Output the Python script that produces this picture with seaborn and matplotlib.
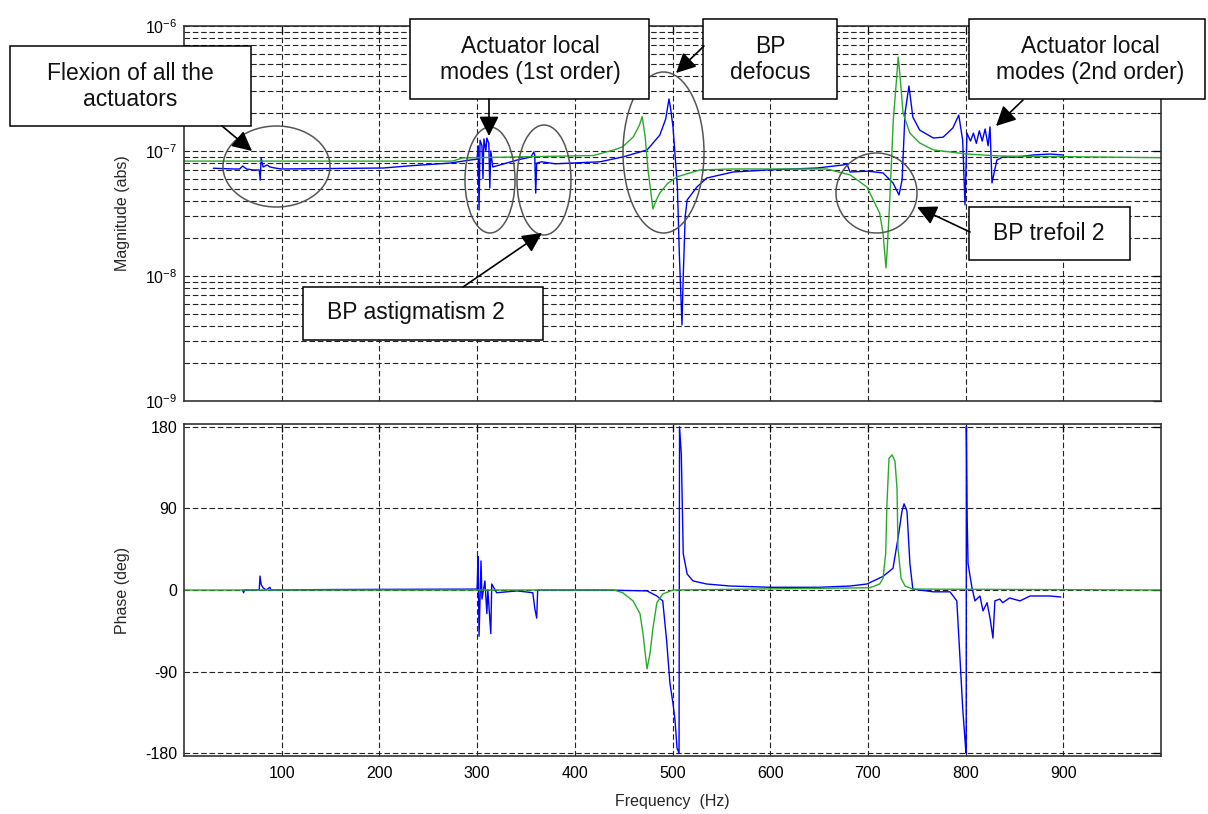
import numpy as np
import matplotlib
matplotlib.use("Agg")
import matplotlib.pyplot as plt
import seaborn as sns
from matplotlib.patches import Ellipse, Rectangle, FancyArrowPatch
from matplotlib.ticker import LogLocator, NullFormatter, FixedLocator

# ---------------- data ----------------
# Magnitude, green trace
g_mag_f = [0, 275, 285, 419, 440, 449, 460, 466, 469, 472, 475, 480, 483, 487, 495, 505, 528, 560,
           658, 682, 699, 712, 715.5, 718.5, 719.5, 722, 726, 729, 731, 733, 736, 743, 753, 767,
           801, 835, 1000]
g_mag_v = [8.3e-8, 8.3e-8, 8.8e-8, 9.2e-8, 1.02e-7, 1.08e-7, 1.3e-7, 1.6e-7, 1.88e-7, 1.3e-7, 7.0e-8,
           3.44e-8, 4.0e-8, 4.61e-8, 5.5e-8, 6.23e-8, 7.05e-8, 7.18e-8,
           7.18e-8, 6.43e-8, 5.15e-8, 3.19e-8, 2.2e-8, 1.16e-8, 1.5e-8, 3.5e-8, 1.77e-7, 3.5e-7,
           5.65e-7, 3.9e-7, 2.01e-7, 1.39e-7, 1.16e-7, 1.02e-7, 9.46e-8, 9.12e-8, 8.84e-8]

# Magnitude, blue trace
b_mag_f = [30, 50, 57, 60, 64, 71, 77, 78, 79, 81, 85, 88, 93, 100, 204, 230, 272, 293,
           300, 301, 302, 303, 305, 306, 307, 309, 310, 312, 313, 314, 316, 330, 341, 355, 358,
           359, 360, 361, 366, 380, 426, 450, 474, 487, 493, 496.4, 498, 500.5, 505, 507, 509.7,
           511, 513, 515, 525, 535, 562, 597, 648, 674.5, 678.6, 681.7, 700, 715.5, 725.7,
           731.8, 735, 738, 742, 746, 753, 767, 777, 787, 793, 797, 799.4, 801.4, 805, 808,
           811, 814, 817, 820, 823, 825, 827, 832, 838, 852.6, 869, 886, 900]
b_mag_v = [7.28e-8, 7.18e-8, 7.18e-8, 7.59e-8, 7.18e-8, 7.05e-8, 7.05e-8, 5.86e-8, 8.79e-8,
           7.45e-8, 7.73e-8, 7.45e-8, 7.31e-8, 7.18e-8, 7.31e-8, 7.6e-8, 8.0e-8, 8.47e-8,
           8.6e-8, 1.1e-7, 3.37e-8, 1.22e-7, 1.1e-7, 6.0e-8, 1.25e-7, 1.0e-7, 1.27e-7, 1.15e-7,
           5.06e-8, 1.0e-7, 7.45e-8, 8.0e-8, 8.47e-8, 8.95e-8, 9.8e-8,
           9.3e-8, 4.61e-8, 8.0e-8, 8.2e-8, 7.9e-8, 8.2e-8, 9.0e-8, 1.02e-7, 1.34e-7, 1.8e-7,
           2.61e-7, 2.2e-7, 1.56e-7, 5.15e-8, 1.5e-8, 4.06e-9,
           1.0e-8, 3.0e-8, 4.06e-8, 5.15e-8, 6.08e-8, 6.79e-8, 7.05e-8, 7.31e-8, 7.73e-8,
           7.87e-8, 6.79e-8, 6.9e-8, 6.67e-8, 5.55e-8,
           4.45e-8, 5.86e-8, 2.01e-7, 3.31e-7, 1.87e-7, 1.47e-7, 1.27e-7, 1.29e-7, 1.53e-7,
           1.94e-7, 1.22e-7, 3.7e-8, 1.39e-7, 1.2e-7, 1.39e-7,
           1.15e-7, 1.45e-7, 1.2e-7, 1.5e-7, 1.1e-7, 1.56e-7, 5.55e-8, 8.47e-8, 8.95e-8,
           8.95e-8, 9.29e-8, 9.46e-8, 9.29e-8]

# Phase, green trace
g_ph_f = [0, 440, 449, 459.6, 466.7, 469.8, 473.9, 477, 480, 484, 490, 500.5,
          702, 712, 715.5, 718.2, 719.5, 721.6, 724.7, 727.7, 729.8, 730.8, 733.9, 738, 746, 1000]
g_ph_v = [0, 0, -3, -12, -26, -48, -87, -70, -42, -14, -4.4, 0,
          2.5, 6.6, 13, 40, 95, 145, 149, 142, 112, 46, 13, 4.4, 1, 0]

# Phase, blue trace
b_ph_f = [60, 61, 62, 77, 77.8, 79, 80.9, 84, 88, 89, 150, 300, 301, 302, 304, 305, 308, 310,
          311, 314, 315, 320, 341, 357, 359, 361, 362, 429, 474, 484, 490, 494, 497.4, 500.5,
          502.6, 504.6, 506.7, 507.2, 509, 511, 515, 521, 535, 559, 600, 650, 681.7, 699,
          715.5, 725.7, 730.8, 734.9, 737, 740, 743, 746, 767, 784, 791, 794, 797, 800.2,
          800.6, 800.8, 801.6, 802.5, 806.6, 809.6, 814.7, 817.8, 822, 825, 828, 830, 835,
          838, 845, 855.7, 866, 886, 897.6]
b_ph_v = [0, -3, 0, 0, 15.4, 6, 2.5, 0, 3, 0, 0.5, 1, 37, -51, 32, -10, 10, -26,
          0, -48, 6.6, -3, -1, -3, -20, -31, 0, 0, -1, -6.6, -12, -56, -103, -125,
          -144, -174, -180, 180, 150, 40, 17.6, 10, 6.6, 4.4, 3, 3, 4.4, 6.6,
          15, 24, 57, 87, 95, 87, 29, 1, -2, -2, -12, -70, -130, -177,
          -180, 180, 79, 29, 2, -12, -6.6, -23, -14, -31, -53, -12, -10,
          -14, -8.8, -12, -6.6, -6.6, -7.7]

x_ticks = [100, 200, 300, 400, 500, 600, 700, 800, 900]
phase_ticks = [-180, -90, 0, 90, 180]

BLUE = "#0000ff"
GREEN = "#28aa28"

# ---------------- styling ----------------
sns.set_style("white")
plt.rcParams['font.family'] = ['Liberation Sans', 'DejaVu Sans']
plt.rcParams['mathtext.fontset'] = 'custom'
plt.rcParams['mathtext.rm'] = 'Liberation Sans'
plt.rcParams['mathtext.it'] = 'Liberation Sans:italic'
plt.rcParams['mathtext.bf'] = 'Liberation Sans:bold'
plt.rcParams['axes.unicode_minus'] = False

W, H = 1208, 814
fig = plt.figure(figsize=(W / 100, H / 100), dpi=100)


def rect(l, t, r, b):
    return [l / W, 1 - b / H, (r - l) / W, (b - t) / H]


def P(x, y):
    return (x / W, 1 - y / H)


ax1 = fig.add_axes(rect(184, 26, 1161, 401))
ax2 = fig.add_axes(rect(184, 424, 1161, 756))

sns.lineplot(x=b_mag_f, y=b_mag_v, ax=ax1, color=BLUE, lw=1.0, estimator=None, sort=False)
sns.lineplot(x=g_mag_f, y=g_mag_v, ax=ax1, color=GREEN, lw=1.0, estimator=None, sort=False)
sns.lineplot(x=b_ph_f, y=b_ph_v, ax=ax2, color=BLUE, lw=1.0, estimator=None, sort=False)
sns.lineplot(x=g_ph_f, y=g_ph_v, ax=ax2, color=GREEN, lw=1.0, estimator=None, sort=False)

grid_kw = dict(color="#222222", linestyle=(0, (5, 2.5)), linewidth=0.8)

ax1.set_yscale('log')
ax1.set_ylim(1e-9, 1e-6)
ax1.yaxis.set_major_locator(LogLocator(base=10, numticks=10))
ax1.yaxis.set_minor_locator(LogLocator(base=10, subs=np.arange(2, 10), numticks=20))
ax1.yaxis.set_minor_formatter(NullFormatter())

for ax in (ax1, ax2):
    ax.set_xlim(0, 1000)
    ax.xaxis.set_major_locator(FixedLocator(x_ticks))
    ax.grid(True, which='major', **grid_kw)
    ax.tick_params(which='both', direction='in', top=True, right=True, labelsize=11.5,
                   colors='black', pad=5)
    ax.tick_params(which='major', length=6, width=0.9)
    ax.tick_params(which='minor', length=3, width=0.8)
    for s in ax.spines.values():
        s.set_color('#333333')
        s.set_linewidth(1.2)
    ax.set_xlabel('')
    ax.set_ylabel('')

ax1.grid(True, which='minor', axis='y', **grid_kw)
ax1.tick_params(labelbottom=False)

ax2.set_ylim(-183, 183)
ax2.yaxis.set_major_locator(FixedLocator(phase_ticks))
ax2.tick_params(axis='x', pad=7)

ax1.set_ylabel('Magnitude (abs)', fontsize=11.5)
ax1.yaxis.set_label_coords(-0.055, 0.5)
ax2.set_ylabel('Phase (deg)', fontsize=11.5)
ax2.yaxis.set_label_coords(-0.055, 0.5)
ax2.set_xlabel('Frequency  (Hz)', fontsize=11.5)
ax2.xaxis.set_label_coords(0.5, -0.115)

# ---------------- annotations ----------------
ell_kw = dict(fill=False, edgecolor='#555555', linewidth=1.1, transform=fig.transFigure, zorder=5)
for cx, cy, w, h in [(276.5, 166.5, 107, 81), (490, 180, 50, 106), (544, 180, 54, 110),
                     (663.5, 152.5, 81, 161), (876.5, 193, 81, 80)]:
    fig.add_artist(Ellipse(P(cx, cy), w / W, h / H, **ell_kw))

boxes = [
    ((10, 46, 251, 126), "Flexion of all the\nactuators", (130, 86.5)),
    ((410, 19, 649, 99), "Actuator local\nmodes (1st order)", (530, 59.5)),
    ((703, 19, 837, 99), "BP\ndefocus", (770, 59.5)),
    ((969, 19, 1205, 99), "Actuator local\nmodes (2nd order)", (1090, 59.5)),
    ((969, 207, 1130, 260), "BP trefoil 2", (1049, 233)),
    ((303, 287, 543, 340), "BP astigmatism 2", (416, 313)),
]
for (l, t, r, b), txt, (tx, ty) in boxes:
    fig.add_artist(Rectangle(P(l, b), (r - l) / W, (b - t) / H, transform=fig.transFigure,
                             facecolor='white', edgecolor='black', linewidth=1.1, zorder=6))
    fig.text(*P(tx, ty), txt, ha='center', va='center', fontsize=16.5, color='#111111',
             linespacing=1.15, zorder=7)

arrows = [((222, 126), (252, 151)), ((489, 99), (489, 136)), ((704, 46), (676, 73)),
          ((1023, 100), (996, 126)), ((970, 232), (917, 207)), ((463, 287), (542, 233))]
for a, b in arrows:
    fig.add_artist(FancyArrowPatch(P(*a), P(*b), transform=fig.transFigure,
                                   arrowstyle='-|>,head_length=0.6,head_width=0.3',
                                   mutation_scale=20, linewidth=1.2, color='black',
                                   shrinkA=0, shrinkB=0, zorder=8))

fig.savefig("out.png", dpi=100, facecolor='white')
